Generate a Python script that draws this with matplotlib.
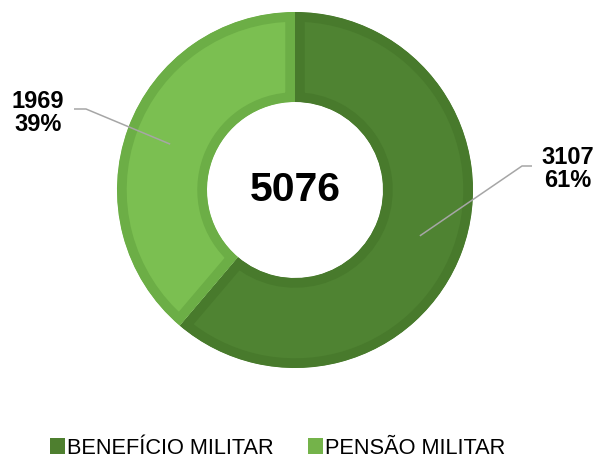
import matplotlib
matplotlib.use("Agg")
import matplotlib.pyplot as plt
from matplotlib.patches import Patch
import numpy as np

plt.rcParams['font.family'] = ['Liberation Sans', 'DejaVu Sans']

# dados
categorias = ["BENEFÍCIO MILITAR", "PENSÃO MILITAR"]
valores = [3107, 1969]
cores = ["#4F8332", "#7BBF51"]
bordas = ["#487A2C", "#6CAE46"]
cores_leg = ["#4E7F2F", "#74B34A"]

total = sum(valores)
pct = [v / total * 100 for v in valores]

fig = plt.figure(figsize=(5.97, 4.59), dpi=100)
ax = fig.add_axes([0, 0, 1, 1])

cx, cy = 295, 459 - 190
R, r_in = 178, 88

wedges, _ = ax.pie(valores, colors=cores, startangle=90, counterclock=False,
                   center=(cx, cy), radius=R,
                   wedgeprops=dict(width=R - r_in, linewidth=0))
for w, b in zip(wedges, bordas):
    w.set_edgecolor(b)
    w.set_linewidth(14)
    w.set_clip_on(True)
    w.set_clip_path(w)

ax.set_xlim(0, 597)
ax.set_ylim(0, 459)
ax.set_aspect('equal')
ax.axis('off')

ax.text(cx, cy, str(total), ha='center', va='center', fontsize=29.5,
        fontweight='bold', color='black')

# rotulos com linhas de chamada
elbows = [(227, 24), (-209, 81)]
ends = [(237, 24), (-221, 81)]
txt_pos = [(273, 21), (-257, 77)]
r_mid = (R + r_in) / 2
for w, v, p, el, en, tp in zip(wedges, valores, pct, elbows, ends, txt_pos):
    ang = np.deg2rad((w.theta1 + w.theta2) / 2)
    x0 = cx + r_mid * np.cos(ang)
    y0 = cy + r_mid * np.sin(ang)
    ax.plot([x0, cx + el[0], cx + en[0]], [y0, cy + el[1], cy + en[1]],
            color='#A6A6A6', lw=1.1, solid_capstyle='butt')
    ax.text(cx + tp[0], cy + tp[1], f"{v}\n{p:.0f}%", ha='center', va='center',
            fontsize=17, fontweight='bold', linespacing=1.05)

handles = [Patch(facecolor=c, edgecolor='none') for c in cores_leg]
fig.legend(handles, categorias, loc='center', bbox_to_anchor=(0.465, 1 - 448 / 459),
           ncol=2, frameon=False, fontsize=15.7, handlelength=0.68, handleheight=0.72,
           handletextpad=0.12, columnspacing=1.55, borderaxespad=0)

fig.savefig("out.png", dpi=100)
